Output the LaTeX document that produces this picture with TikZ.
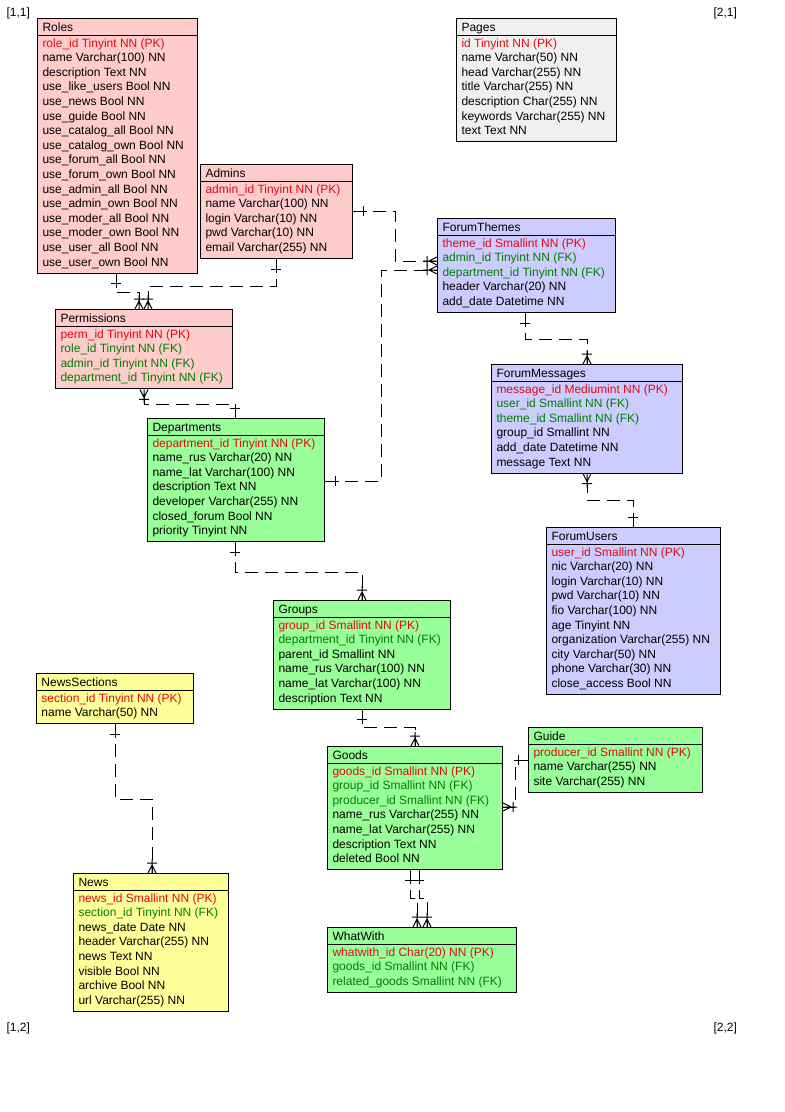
\documentclass[tikz,border=0pt]{standalone}
\usepackage{fontspec}
\setmainfont{Liberation Sans}
\usetikzlibrary{calc,decorations.markings}

\definecolor{pinkfill}{RGB}{255,204,204}
\definecolor{bluefill}{RGB}{204,204,255}
\definecolor{greenfill}{RGB}{153,255,153}
\definecolor{yellowfill}{RGB}{255,255,153}
\definecolor{greyfill}{RGB}{240,240,240}
\definecolor{pk}{RGB}{225,10,20}
\definecolor{fk}{RGB}{0,125,0}
\definecolor{nn}{RGB}{0,0,0}

\tikzset{
    tbl/.style={draw, anchor=north west, inner sep=0pt},
    ttl/.style={anchor=base west, inner sep=0pt, font=\fontsize{12}{13}\selectfont},
    fld/.style={anchor=base west, inner sep=0pt, font=\fontsize{12}{13}\selectfont},
    rel/.style={dash pattern=on 13pt off 7pt},
    one/.style={postaction={decorate, decoration={markings,
        mark=at position 0 with {\draw[solid] (0,0) -- (14pt,0) (10pt,-5pt) -- (10pt,5pt);}}}},
    many/.style={postaction={decorate, decoration={markings,
        mark=at position 1 with {\draw[solid] (0,0) -- (-14pt,0) (-10pt,-5pt) -- (-10pt,5pt)
            (-8pt,0) -- (0,4pt) (-8pt,0) -- (0,-4pt);}}}}
}

% name, x, y, width, rows, fill, title, fields
\newcommand{\ertable}[8]{%
    \node[tbl, fill=#6, minimum width=#4pt, minimum height={21pt+14.6pt*#5}] (#1) at (#2,#3) {};
    \draw ([yshift=-17pt]#1.north west) -- ([yshift=-17pt]#1.north east);
    \node[ttl] (#1-title) at ([xshift=5pt,yshift=-13.5pt]#1.north west) {#7};
    \foreach \c/\t [count=\i] in {#8}
        \node[fld, text=\c] (#1-\i) at ([xshift=5pt,yshift={-29pt-14.6pt*(\i-1)}]#1.north west) {\t};
}

\begin{document}
\begin{tikzpicture}[x=1pt, y=-1pt, line width=1pt]
    \fill[white] (0,0) rectangle (785,1112);
    \useasboundingbox (0,0) rectangle (785,1112);

    % page corners
    \foreach \x/\y/\m in {6/16/{[1,1]}, 713/16/{[2,1]}, 6/1031/{[1,2]}, 713/1031/{[2,2]}}
        \node[fld] at (\x,\y) {\m};

    \ertable{roles}{37}{18}{160}{16}{pinkfill}{Roles}{
        pk/role\_id Tinyint NN (PK),
        nn/name Varchar(100) NN,
        nn/description Text NN,
        nn/use\_like\_users Bool NN,
        nn/use\_news Bool NN,
        nn/use\_guide Bool NN,
        nn/use\_catalog\_all Bool NN,
        nn/use\_catalog\_own Bool NN,
        nn/use\_forum\_all Bool NN,
        nn/use\_forum\_own Bool NN,
        nn/use\_admin\_all Bool NN,
        nn/use\_admin\_own Bool NN,
        nn/use\_moder\_all Bool NN,
        nn/use\_moder\_own Bool NN,
        nn/use\_user\_all Bool NN,
        nn/use\_user\_own Bool NN}

    \ertable{admins}{200}{164}{152}{5}{pinkfill}{Admins}{
        pk/admin\_id Tinyint NN (PK),
        nn/name Varchar(100) NN,
        nn/login Varchar(10) NN,
        nn/pwd Varchar(10) NN,
        nn/email Varchar(255) NN}

    \ertable{pages}{456}{18}{160}{7}{greyfill}{Pages}{
        pk/id Tinyint NN (PK),
        nn/name Varchar(50) NN,
        nn/head Varchar(255) NN,
        nn/title Varchar(255) NN,
        nn/description Char(255) NN,
        nn/keywords Varchar(255) NN,
        nn/text Text NN}

    \ertable{permissions}{55}{309}{177}{4}{pinkfill}{Permissions}{
        pk/perm\_id Tinyint NN (PK),
        fk/role\_id Tinyint NN (FK),
        fk/admin\_id Tinyint NN (FK),
        fk/department\_id Tinyint NN (FK)}

    \ertable{forumthemes}{437}{218}{178}{5}{bluefill}{ForumThemes}{
        pk/theme\_id Smallint NN (PK),
        fk/admin\_id Tinyint NN (FK),
        fk/department\_id Tinyint NN (FK),
        nn/header Varchar(20) NN,
        nn/add\_date Datetime NN}

    \ertable{forummessages}{491}{364}{191}{6}{bluefill}{ForumMessages}{
        pk/message\_id Mediumint NN (PK),
        fk/user\_id Smallint NN (FK),
        fk/theme\_id Smallint NN (FK),
        nn/group\_id Smallint NN,
        nn/add\_date Datetime NN,
        nn/message Text NN}

    \ertable{forumusers}{546}{527}{174}{10}{bluefill}{ForumUsers}{
        pk/user\_id Smallint NN (PK),
        nn/nic Varchar(20) NN,
        nn/login Varchar(10) NN,
        nn/pwd Varchar(10) NN,
        nn/fio Varchar(100) NN,
        nn/age Tinyint NN,
        nn/organization Varchar(255) NN,
        nn/city Varchar(50) NN,
        nn/phone Varchar(30) NN,
        nn/close\_access Bool NN}

    \ertable{departments}{147}{418}{177}{7}{greenfill}{Departments}{
        pk/department\_id Tinyint NN (PK),
        nn/name\_rus Varchar(20) NN,
        nn/name\_lat Varchar(100) NN,
        nn/description Text NN,
        nn/developer Varchar(255) NN,
        nn/closed\_forum Bool NN,
        nn/priority Tinyint NN}

    \ertable{groups}{273}{600}{177}{6}{greenfill}{Groups}{
        pk/group\_id Smallint NN (PK),
        fk/department\_id Tinyint NN (FK),
        nn/parent\_id Smallint NN,
        nn/name\_rus Varchar(100) NN,
        nn/name\_lat Varchar(100) NN,
        nn/description Text NN}

    \ertable{goods}{327}{746}{175}{7}{greenfill}{Goods}{
        pk/goods\_id Smallint NN (PK),
        fk/group\_id Smallint NN (FK),
        fk/producer\_id Smallint NN (FK),
        nn/name\_rus Varchar(255) NN,
        nn/name\_lat Varchar(255) NN,
        nn/description Text NN,
        nn/deleted Bool NN}

    \ertable{guide}{528}{727}{174}{3}{greenfill}{Guide}{
        pk/producer\_id Smallint NN (PK),
        nn/name Varchar(255) NN,
        nn/site Varchar(255) NN}

    \ertable{whatwith}{327}{927}{189}{3}{greenfill}{WhatWith}{
        pk/whatwith\_id Char(20) NN (PK),
        fk/goods\_id Smallint NN (FK),
        fk/related\_goods Smallint NN (FK)}

    \ertable{newssections}{36}{673}{157}{2}{yellowfill}{NewsSections}{
        pk/section\_id Tinyint NN (PK),
        nn/name Varchar(50) NN}

    \ertable{news}{73}{873}{155}{8}{yellowfill}{News}{
        pk/news\_id Smallint NN (PK),
        fk/section\_id Tinyint NN (FK),
        nn/news\_date Date NN,
        nn/header Varchar(255) NN,
        nn/news Text NN,
        nn/visible Bool NN,
        nn/archive Bool NN,
        nn/url Varchar(255) NN}

    % relations, one side first
    \draw[rel, one, many] ([xshift=79pt]roles.south west) -- ++(0,19) -| ([xshift=84pt]permissions.north west);
    \draw[rel, one, many] ([xshift=76pt]admins.south west) -- ++(0,27) -| ([xshift=93pt]permissions.north west);
    \draw[rel, one, many] ([xshift=88pt]departments.north west) -- ++(0,-14) -| ([xshift=89pt]permissions.south west);
    \draw[rel, one, many] ([yshift=-47pt]admins.north east) -- ++(42,0) |- ([yshift=-43pt]forumthemes.north west);
    \draw[rel, one, many] ([yshift=-63pt]departments.north east) -- ++(56,0) |- ([yshift=-52pt]forumthemes.north west);
    \draw[rel, one, many] ([xshift=88pt]forumthemes.south west) -- ++(0,26) -| ([xshift=96pt]forummessages.north west);
    \draw[rel, one, many] ([xshift=87pt]forumusers.north west) -- ++(0,-27) -| ([xshift=96pt]forummessages.south west);
    \draw[rel, one, many] ([xshift=88pt]departments.south west) -- ++(0,30) -| ([xshift=89pt]groups.north west);
    \draw[rel, one, many] ([xshift=89pt]groups.south west) -- ++(0,18) -| ([xshift=88pt]goods.north west);
    \draw[rel, one, many] ([yshift=-33pt]guide.north west) -- ++(-13,0) |- ([yshift=-61pt]goods.north east);
    \draw[rel, one, many] ([xshift=83pt]goods.south west) -- ++(0,28) -| ([xshift=90pt]whatwith.north west);
    \draw[rel, one, many] ([xshift=92pt]goods.south west) -- ++(0,28) -| ([xshift=100pt]whatwith.north west);
    \draw[rel, one, many] ([xshift=79pt]newssections.south west) -- ++(0,75) -| ([xshift=79pt]news.north west);
\end{tikzpicture}
\end{document}
